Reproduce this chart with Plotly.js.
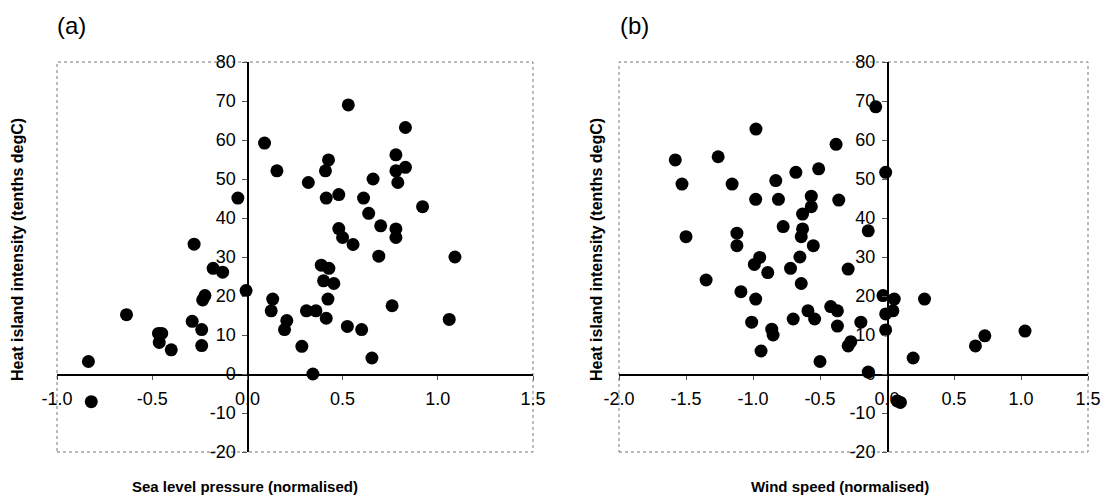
<!DOCTYPE html>
<html>
<head>
<meta charset="utf-8">
<script src="https://cdn.plot.ly/plotly-3.0.1.min.js"></script>
<style>html,body{margin:0;padding:0;background:#fff;}#chart{width:1113px;height:499px;}</style>
</head>
<body>
<div id="chart"></div>
<script>
// Panel (a): sea level pressure vs heat island intensity
const slpX = [-0.05,-0.28,0.09,0.155,0.32,0.53,0.426,0.41,0.414,0.48,0.61,0.66,0.83,0.78,0.83,0.78,0.79,0.92,0.637,0.48,0.50,0.555,0.70,0.78,0.78,0.69,-0.007,0.388,0.428,0.40,0.454,0.423,0.133,0.125,0.31,0.36,0.414,0.207,0.195,0.525,0.60,0.76,0.286,0.654,0.344,-0.18,-0.13,-0.223,-0.235,-0.635,-0.29,-0.24,-0.467,-0.45,-0.463,-0.40,-0.24,-0.835,-0.82,1.06,1.09];
const slpY = [45.1,33.3,59.2,52.1,49.1,69,54.9,52.1,45.1,46,45.1,50,63.2,56.2,53,52.1,49.1,42.9,41.2,37.3,35,33.2,38,37.2,35,30.2,21.4,27.9,27.1,23.9,23.2,19.2,19.2,16.2,16.2,16.2,14.3,13.7,11.4,12.2,11.4,17.5,7.1,4.1,0,27.1,26.1,20.1,19,15.2,13.5,11.4,10.4,10.4,8.1,6.2,7.3,3.2,-7.1,14,30];
// Panel (b): wind speed vs heat island intensity
const windX = [-0.978,-1.58,-1.26,-1.53,-1.156,-0.68,-0.83,-0.98,-0.81,-1.50,-1.12,-1.12,-0.775,-0.63,-0.63,-0.64,-0.084,-0.38,-0.51,-0.01,-0.565,-0.565,-0.36,-0.55,-0.14,-0.65,-0.95,-0.99,-0.89,-1.35,-0.72,-0.64,-1.09,-0.98,-0.59,-0.70,-1.01,-0.86,-0.85,-0.94,-0.29,-0.03,0.054,0.28,-0.42,-0.37,0.044,-0.01,-0.54,-0.195,-0.37,-0.01,-0.27,-0.29,0.73,0.66,0.195,-0.50,-0.14,0.076,0.10,1.03];
const windY = [62.8,54.9,55.7,48.7,48.7,51.7,49.6,44.8,44.8,35.2,36.1,32.9,37.8,41,37.2,35.2,68.5,58.9,52.6,51.7,45.6,42.9,44.6,32.9,36.7,30,29.9,28.1,26,24.1,27.1,23.2,21.1,19.2,16.2,14.1,13.3,11.5,10,5.9,26.9,20.1,19.2,19.2,17.3,16.2,16.2,15.4,14.1,13.3,12.3,11.3,8.3,7.2,9.8,7.2,4.1,3.2,0.5,-6.9,-7.3,11];

const xTicksA = [-1.0,-0.5,0.0,0.5,1.0,1.5];
const xTickTextA = ["-1.0","-0.5","0.0","0.5","1.0","1.5"];
const xTicksB = [-2.0,-1.5,-1.0,-0.5,0.0,0.5,1.0,1.5];
const xTickTextB = ["-2.0","-1.5","-1.0","-0.5","0.0","0.5","1.0","1.5"];
const yTicks = [-20,-10,0,10,20,30,40,50,60,70,80];
const yTickText = ["-20","-10","0","10","20","30","40","50","60","70","80"];

const FONT = "Liberation Sans, Arial, sans-serif";
const marker = {color:"#000", size:13, line:{width:0}};

const traces = [
  {x:slpX, y:slpY, type:"scatter", mode:"markers", marker:marker, xaxis:"x", yaxis:"y", hoverinfo:"x+y"},
  {x:windX, y:windY, type:"scatter", mode:"markers", marker:marker, xaxis:"x2", yaxis:"y2", hoverinfo:"x+y"}
];

const W = 1113, L = 57, R = 25;
const plotW = W - L - R;
const domA = [0, (533-57)/plotW];
const domB = [(619-57)/plotW, 1];
const xRangeA = [-1.0, 1.5], xRangeB = [-2.0, 1.5], yRange = [-20, 80];
const frac = (v, r) => (v - r[0]) / (r[1] - r[0]);
const yPosA = domA[0] + (domA[1]-domA[0]) * frac(0, xRangeA);
const yPosB = domB[0] + (domB[1]-domB[0]) * frac(0, xRangeB);
const xPos = frac(0, yRange);

const tickFont = {family: FONT, size: 18, color: "#000"};
function xAxis(dom, rng, tv, tt) {
  return {domain: dom, range: rng, anchor: "free", position: xPos,
    showgrid: false, zeroline: false, showline: true, linecolor: "#000", linewidth: 1.5,
    ticks: "outside", ticklen: 4, tickcolor: "#555", tickvals: tv, ticktext: tt,
    tickfont: tickFont, ticklabelstandoff: 4, fixedrange: true};
}
function yAxis(pos) {
  return {domain: [0,1], range: yRange, anchor: "free", position: pos,
    showgrid: false, zeroline: false, showline: true, linecolor: "#000", linewidth: 1.5,
    ticks: "outside", ticklen: 5, tickcolor: "#555", tickvals: yTicks, ticktext: yTickText,
    tickfont: tickFont, ticklabelstandoff: 3, fixedrange: true};
}

const border = (xr, yr) => ({type: "rect", xref: xr + " domain", yref: yr + " domain",
  x0: 0, x1: 1, y0: 0, y1: 1, line: {color: "#777", width: 1, dash: "dot"}, fillcolor: "rgba(0,0,0,0)", layer: "below"});

const titleFont = {family: FONT, size: 15, color: "#000", weight: "bold"};
const yTitleFont = {family: FONT, size: 16, color: "#000", weight: "bold"};
const layout = {
  width: 1113, height: 499,
  margin: {l: L, r: R, t: 62, b: 47},
  paper_bgcolor: "#fff", plot_bgcolor: "#fff",
  showlegend: false,
  font: {family: FONT, color: "#000"},
  xaxis: xAxis(domA, xRangeA, xTicksA, xTickTextA),
  yaxis: yAxis(yPosA),
  xaxis2: xAxis(domB, xRangeB, xTicksB, xTickTextB),
  yaxis2: yAxis(yPosB),
  shapes: [border("x","y"), border("x2","y2")],
  annotations: [
    {text: "(a)", xref: "paper", yref: "paper", x: -2/plotW, y: 1 + 36/390, xanchor: "left", yanchor: "middle", showarrow: false, font: {family: FONT, size: 24, color: "#000"}},
    {text: "(b)", xref: "paper", yref: "paper", x: (618-57)/plotW, y: 1 + 36/390, xanchor: "left", yanchor: "middle", showarrow: false, font: {family: FONT, size: 24, color: "#000"}},
    {text: "<b>Heat island intensity (tenths degC)</b>", xref: "paper", yref: "paper", x: (18-57)/plotW, y: (452-250)/390, textangle: -90, xanchor: "center", yanchor: "middle", showarrow: false, font: yTitleFont},
    {text: "<b>Heat island intensity (tenths degC)</b>", xref: "paper", yref: "paper", x: (597-57)/plotW, y: (452-250)/390, textangle: -90, xanchor: "center", yanchor: "middle", showarrow: false, font: yTitleFont},
    {text: "<b>Sea level pressure (normalised)</b>", xref: "paper", yref: "paper", x: (245-57)/plotW, y: -(487-452)/390, xanchor: "center", yanchor: "middle", showarrow: false, font: titleFont},
    {text: "<b>Wind speed (normalised)</b>", xref: "paper", yref: "paper", x: (840-57)/plotW, y: -(487-452)/390, xanchor: "center", yanchor: "middle", showarrow: false, font: titleFont}
  ]
};

Plotly.newPlot("chart", traces, layout, {displayModeBar: false, staticPlot: true});
</script>
</body>
</html>
